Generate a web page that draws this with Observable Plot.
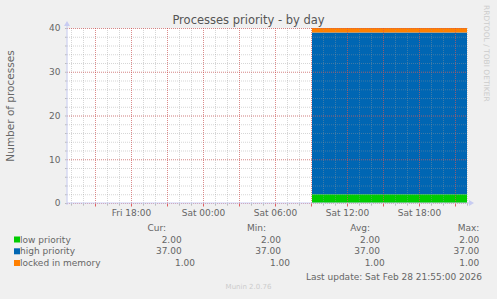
<!DOCTYPE html>
<html><head><meta charset="utf-8">
<script src="https://cdn.jsdelivr.net/npm/d3@7"></script>
<script src="https://cdn.jsdelivr.net/npm/@observablehq/plot@0.6"></script>
<style>
html,body{margin:0;padding:0;background:#f0f0f0;}
#chart{width:497px;height:299px;position:relative;}
</style></head><body><div id="chart"></div>
<script>
// ---- data ----
const seriesNames = ["low priority", "high priority", "locked in memory"];
const seriesColors = ["#00cc00", "#0066b3", "#ff8000"];
const curValues = [2, 37, 1];
const minValues = [2, 37, 1];
const avgValues = [2, 37, 1];
const maxValues = [2, 37, 1];
const dataTimes = ["2026-02-28T09:05:00Z", "2026-02-28T22:00:00Z"];
const domainTimes = ["2026-02-27T12:40:00Z", "2026-02-28T22:00:00Z"];
const xTickTimes = ["2026-02-27T18:00:00Z", "2026-02-28T00:00:00Z", "2026-02-28T06:00:00Z", "2026-02-28T12:00:00Z", "2026-02-28T18:00:00Z"];
const yTicks = [0, 10, 20, 30, 40];
const titleText = "Processes priority - by day";
const yLabelText = "Number of processes";
const lastUpdateText = "Last update: Sat Feb 28 21:55:00 2026";
const sideText = "RRDTOOL / TOBI OETIKER";
const footerText = "Munin 2.0.76";

// ---- derived ----
const parse = s => new Date(s);
const rows = [];
seriesNames.forEach((name, i) => {
  dataTimes.forEach(t => rows.push({time: parse(t), series: name, value: curValues[i]}));
});
const dom = domainTimes.map(parse);
const minorHours = d3.utcHour.range(dom[0], d3.utcMinute.offset(dom[1], 1));
const majorHours = d3.utcHour.every(3).range(dom[0], d3.utcMinute.offset(dom[1], 1));
const minorY = d3.range(0, 41, 2);
const majorY = d3.range(0, 41, 10);
const FONT = "DejaVu Sans";
const TXT = "#666";

const plot = Plot.plot({
  width: 497, height: 299,
  marginLeft: 67, marginRight: 30, marginTop: 28, marginBottom: 96,
  style: {background: "transparent", fontFamily: FONT, color: TXT},
  x: {type: "utc", domain: dom, label: null},
  y: {domain: [0, 40], label: null},
  color: {domain: seriesNames, range: seriesColors},
  marks: [
    Plot.frame({fill: "white", stroke: null}),
    Plot.areaY(rows, {x: "time", y: "value", fill: "series", curve: "step-after"}),
    Plot.ruleX(minorHours, {stroke: "#999", strokeOpacity: 0.4, strokeDasharray: "1,1"}),
    Plot.ruleY(minorY, {stroke: "#999", strokeOpacity: 0.4, strokeDasharray: "1,1"}),
    Plot.ruleX(majorHours, {stroke: "#e04040", strokeOpacity: 0.5, strokeDasharray: "1,1"}),
    Plot.ruleY(majorY, {stroke: "#e04040", strokeOpacity: 0.5, strokeDasharray: "1,1"}),
    Plot.ruleX(minorHours, {y1: -0.6, y2: 0, stroke: "#bbb"}),
    Plot.ruleX(majorHours, {y1: -0.8, y2: 0, stroke: "#e06060"}),
    Plot.axisX(xTickTimes.map(parse), {tickSize: 0, tickPadding: 6, fontSize: 9, label: null, tickFormat: d3.utcFormat("%a %H:%M"), color: TXT}),
    Plot.axisY(minorY, {tickSize: 2, label: null, tickFormat: () => "", stroke: "#bbb"}),
    Plot.axisY(yTicks, {tickSize: 0, tickPadding: 7, fontSize: 9, label: null, color: TXT}),
  ]
});
document.getElementById("chart").appendChild(plot);

// ---- decorations & legend ----
const svg = d3.select(plot);
const xs = plot.scale("x"), ys = plot.scale("y");
const x0 = xs.apply(dom[0]), x1 = xs.apply(dom[1]);
const y0 = ys.apply(0), y1 = ys.apply(40);
const axisCol = "#c8ccf2";
svg.append("line").attr("x1", x0).attr("x2", x1 + 2).attr("y1", y0).attr("y2", y0).attr("stroke", axisCol);
svg.append("line").attr("x1", x0).attr("x2", x0).attr("y1", y0 + 2).attr("y2", y1 - 2).attr("stroke", axisCol);
svg.append("path").attr("d", `M${x1 + 2},${y0 - 3}L${x1 + 7},${y0}L${x1 + 2},${y0 + 3}Z`).attr("fill", axisCol);
svg.append("path").attr("d", `M${x0 - 3},${y1 - 2}L${x0},${y1 - 7}L${x0 + 3},${y1 - 2}Z`).attr("fill", axisCol);

const txt = (x, y, s, opts = {}) => {
  const t = svg.append("text").attr("x", x).attr("y", y).text(s)
    .attr("font-family", FONT).attr("font-size", opts.size || 9)
    .attr("fill", opts.fill || TXT).attr("text-anchor", opts.anchor || "start");
  if (opts.transform) t.attr("transform", opts.transform);
  return t;
};
txt(248.5, 24, titleText, {size: 11.5, anchor: "middle", fill: "#555"});
txt(0, 0, yLabelText, {size: 10.5, anchor: "middle", transform: "translate(14,106) rotate(-90)"});
txt(0, 0, sideText, {size: 7.5, fill: "#ccc", transform: "translate(484,5) rotate(90)"});

const hdrY = 230.5;
txt(166, hdrY, "Cur:", {anchor: "end"});
txt(266, hdrY, "Min:", {anchor: "end"});
txt(370, hdrY, "Avg:", {anchor: "end"});
txt(479.3, hdrY, "Max:", {anchor: "end"});
const rowY = [242.5, 254.3, 266];
const colEnds = [[181.7, 181.7, 195], [281, 281, 290], [380, 380, 384.7], [479.3, 479.3, 479.3]];
const cols = [curValues, minValues, avgValues, maxValues];
seriesNames.forEach((name, i) => {
  svg.append("rect").attr("x", 14).attr("y", rowY[i] - 6).attr("width", 6).attr("height", 6).attr("fill", seriesColors[i]);
  txt(20, rowY[i], name);
  cols.forEach((vals, c) => txt(colEnds[c][i], rowY[i], d3.format(".2f")(vals[i]), {anchor: "end"}));
});
txt(482, 279.5, lastUpdateText, {anchor: "end"});
txt(248.5, 289, footerText, {size: 7, fill: "#ccc", anchor: "middle"});
</script></body></html>
